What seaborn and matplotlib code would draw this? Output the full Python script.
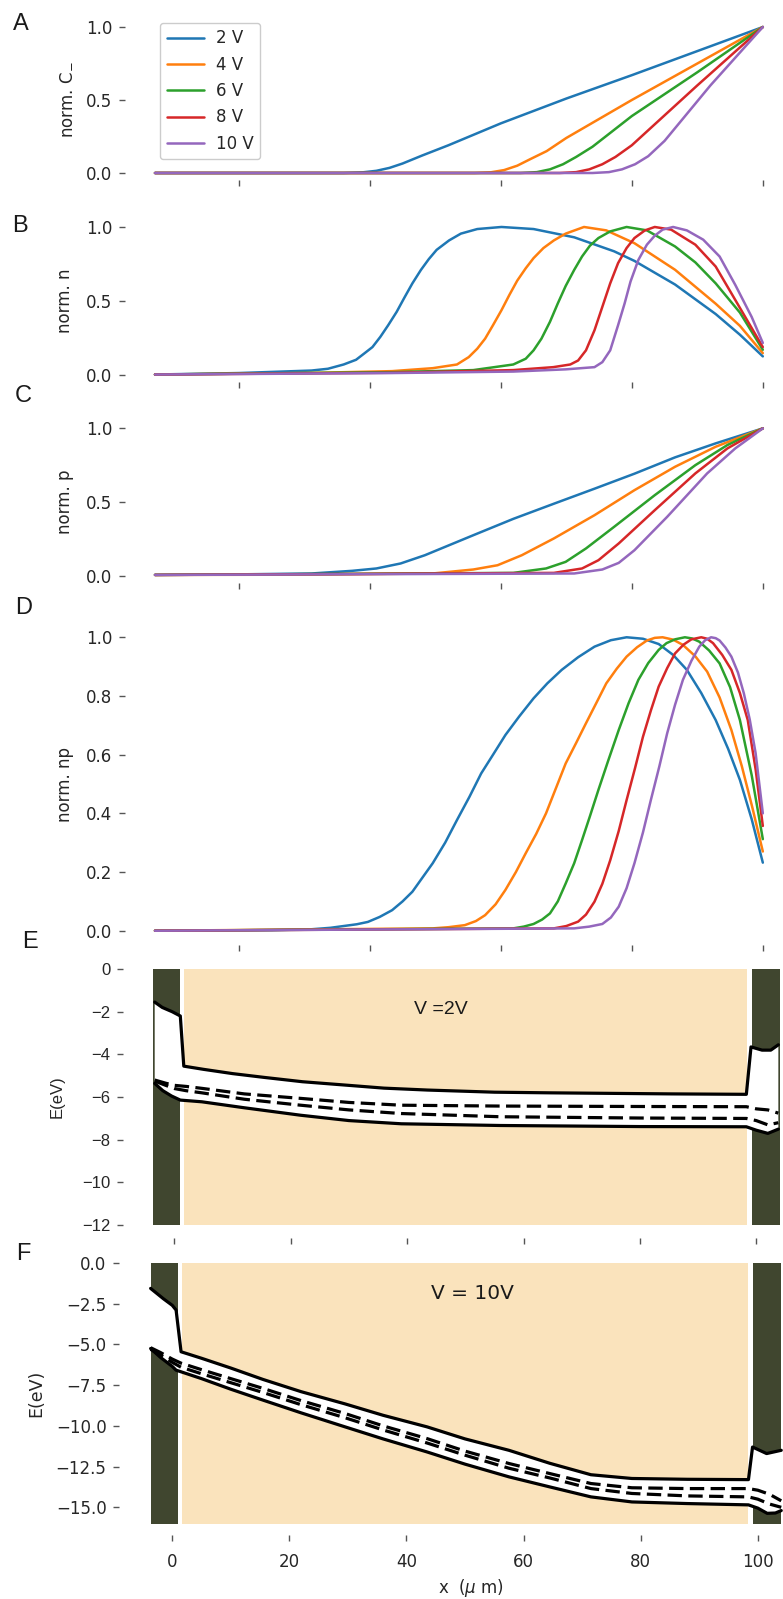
import numpy as np
import pandas as pd
import matplotlib
matplotlib.use("Agg")
import matplotlib.pyplot as plt
import seaborn as sns

sns.set_theme(style="ticks")
plt.rcParams["font.family"] = ["DejaVu Sans"]

# ---------------- data ----------------
volt_labels = ["2 V", "4 V", "6 V", "8 V", "10 V"]
line_colors = ["#1f77b4", "#ff7f0e", "#2ca02c", "#d62728", "#9467bd"]

# Panel A : norm. C_-
a_x = [
    [7.2, 36, 39, 41, 43, 45, 48, 52, 60, 70, 80, 90, 100],
    [7.2, 56, 58.5, 60.5, 62.5, 64.5, 67, 70, 80, 90, 100],
    [7.2, 63, 65.5, 67.5, 69.5, 71.5, 74, 80, 90, 100],
    [7.2, 69, 71.5, 73.5, 75.5, 77.5, 80, 90, 100],
    [7.2, 74, 76.5, 78.5, 80.5, 82.5, 85, 92, 100],
]
a_y = [
    [0, 0, 0.005, 0.015, 0.035, 0.065, 0.12, 0.19, 0.34, 0.51, 0.67, 0.835, 1.0],
    [0, 0, 0.005, 0.02, 0.05, 0.095, 0.15, 0.24, 0.50, 0.75, 1.0],
    [0, 0, 0.006, 0.025, 0.06, 0.11, 0.18, 0.39, 0.69, 1.0],
    [0, 0, 0.006, 0.025, 0.06, 0.11, 0.19, 0.60, 1.0],
    [0, 0, 0.006, 0.025, 0.06, 0.115, 0.22, 0.60, 1.0],
]

# Panel B : norm. n
b_x = [
    [7.2, 20, 31.1, 33.6, 36.0, 37.9, 39.1, 40.4, 41.6, 42.8, 44.1, 45.3, 46.5, 47.8, 49.0, 50.2,
     52.1, 53.9, 56.4, 60.1, 65.0, 71.2, 77.3, 80.4, 86.6, 92.8, 96.5, 100],
    [7.2, 31.1, 43.4, 49.6, 53.3, 55.1, 56.4, 57.6, 58.8, 60.1, 61.3, 62.5, 63.8, 65.0, 66.5, 68.1,
     69.9, 72.7, 76.1, 80.4, 86.6, 92.8, 96.5, 100],
    [7.2, 43.4, 55.8, 61.9, 63.8, 65.0, 66.2, 67.5, 68.7, 69.9, 71.2, 72.4, 73.6, 74.9, 76.7, 79.2,
     82.3, 86.6, 89.7, 92.8, 96.5, 100],
    [7.2, 43.4, 61.9, 68.0, 70.6, 71.8, 73.0, 74.3, 75.5, 76.7, 77.9, 79.2, 80.4, 82.0, 83.5, 86.0,
     89.7, 92.8, 95.8, 100],
    [7.2, 43.4, 61.9, 69.9, 74.3, 75.5, 76.7, 77.9, 78.9, 79.8, 81.0, 82.3, 83.5, 84.7, 86.3, 88.4,
     90.9, 93.4, 95.8, 98.3, 100],
]
b_y = [
    [0, 0.01, 0.027, 0.039, 0.068, 0.10, 0.141, 0.186, 0.255, 0.334, 0.425, 0.523, 0.618, 0.709,
     0.782, 0.845, 0.909, 0.955, 0.986, 1.0, 0.986, 0.93, 0.835, 0.77, 0.61, 0.41, 0.27, 0.123],
    [0, 0.011, 0.023, 0.043, 0.068, 0.118, 0.175, 0.243, 0.334, 0.436, 0.539, 0.636, 0.72, 0.789,
     0.857, 0.909, 0.955, 1.0, 0.977, 0.89, 0.71, 0.48, 0.33, 0.145],
    [0, 0.016, 0.03, 0.068, 0.107, 0.164, 0.243, 0.357, 0.482, 0.60, 0.709, 0.80, 0.873, 0.925,
     0.97, 1.0, 0.977, 0.868, 0.76, 0.618, 0.42, 0.168],
    [0, 0.012, 0.03, 0.05, 0.068, 0.095, 0.164, 0.30, 0.459, 0.618, 0.755, 0.857, 0.925, 0.977,
     1.0, 0.982, 0.88, 0.732, 0.505, 0.186],
    [0, 0.01, 0.02, 0.035, 0.05, 0.084, 0.164, 0.334, 0.482, 0.63, 0.777, 0.88, 0.941, 0.982, 1.0,
     0.977, 0.914, 0.80, 0.607, 0.39, 0.214],
]

# Panel C : norm. p
c_x = [
    [7.2, 20, 31.1, 37.3, 41.0, 44.7, 48.4, 52.1, 55.8, 61.9, 68.1, 74.3, 80.4, 86.6, 92.8, 100],
    [7.2, 31.1, 49.6, 55.8, 59.5, 63.2, 68.1, 74.3, 80.4, 86.6, 92.8, 100],
    [7.2, 61.9, 66.9, 69.9, 73.0, 77.3, 83.5, 89.7, 94.6, 100],
    [7.2, 68.1, 72.4, 74.9, 78.0, 83.5, 89.7, 94.6, 100],
    [7.2, 71.2, 75.5, 78.0, 80.4, 85.4, 91.5, 95.8, 100],
]
c_y = [
    [0.005, 0.008, 0.014, 0.032, 0.048, 0.082, 0.138, 0.206, 0.274, 0.385, 0.488, 0.59, 0.692, 0.803, 0.898, 1.0],
    [0.004, 0.006, 0.014, 0.041, 0.07, 0.138, 0.252, 0.41, 0.58, 0.739, 0.875, 1.0],
    [0.004, 0.018, 0.048, 0.093, 0.184, 0.331, 0.546, 0.75, 0.887, 1.0],
    [0.004, 0.018, 0.048, 0.104, 0.218, 0.444, 0.694, 0.864, 1.0],
    [0.004, 0.014, 0.041, 0.086, 0.172, 0.399, 0.694, 0.864, 1.0],
]

# Panel D : norm. np
d_x = [
    [7.2, 25, 31.1, 34, 36, 38, 39.7, 41.5, 43.4, 45.0, 46.5, 48.0, 49.6, 51.5, 53.3, 55.2, 57.0,
     58.9, 60.7, 62.8, 65.0, 67.1, 69.3, 71.8, 74.3, 76.8, 79.2, 81.7, 84.1, 86.3, 88.4, 90.6,
     92.8, 94.7, 96.5, 98.3, 100],
    [7.2, 49.6, 52, 54.5, 56.2, 57.6, 59.2, 60.7, 62.3, 63.8, 65.4, 66.9, 68.4, 69.9, 71.5, 73.0,
     74.6, 76.1, 77.7, 79.2, 80.8, 82.3, 83.5, 84.7, 86.3, 87.8, 89.7, 91.5, 93.4, 95.2, 96.8,
     98.4, 100],
    [7.2, 61.9, 63.5, 65.0, 66.3, 67.5, 68.7, 69.9, 71.2, 72.4, 73.6, 74.9, 76.4, 78.0, 79.5, 81.0,
     82.5, 84.1, 85.3, 86.6, 88.1, 89.2, 90.3, 91.8, 93.4, 95.0, 96.5, 98.3, 100],
    [7.2, 68.1, 70.0, 71.8, 73.0, 74.3, 75.5, 76.7, 78.0, 79.2, 80.5, 81.7, 82.9, 84.1, 85.4, 86.6,
     87.9, 89.1, 90.6, 91.5, 92.4, 93.8, 95.2, 96.5, 97.7, 98.9, 100],
    [7.2, 71.2, 73.5, 75.5, 76.8, 78.0, 79.2, 80.4, 81.7, 82.9, 84.2, 85.4, 86.6, 87.8, 89.1, 90.3,
     91.2, 92.1, 92.8, 93.4, 94.3, 95.2, 96.2, 97.1, 98.0, 98.9, 100],
]
d_y = [
    [0, 0.002, 0.005, 0.01, 0.016, 0.022, 0.03, 0.047, 0.07, 0.10, 0.133, 0.18, 0.23, 0.30, 0.377,
     0.456, 0.536, 0.603, 0.667, 0.73, 0.792, 0.843, 0.889, 0.932, 0.968, 0.99, 1.0, 0.995, 0.977,
     0.94, 0.889, 0.81, 0.718, 0.62, 0.514, 0.38, 0.232],
    [0, 0.008, 0.012, 0.019, 0.033, 0.053, 0.09, 0.139, 0.20, 0.264, 0.33, 0.40, 0.485, 0.57, 0.64,
     0.707, 0.777, 0.843, 0.893, 0.934, 0.966, 0.989, 0.998, 1.0, 0.992, 0.974, 0.935, 0.883, 0.795,
     0.684, 0.56, 0.42, 0.27],
    [0, 0.008, 0.014, 0.023, 0.038, 0.059, 0.10, 0.161, 0.23, 0.309, 0.39, 0.48, 0.58, 0.684, 0.775,
     0.855, 0.912, 0.957, 0.98, 0.993, 1.0, 0.996, 0.985, 0.955, 0.911, 0.83, 0.718, 0.53, 0.312],
    [0, 0.008, 0.016, 0.031, 0.055, 0.099, 0.16, 0.24, 0.34, 0.445, 0.555, 0.661, 0.75, 0.832, 0.895,
     0.945, 0.975, 0.993, 1.0, 0.995, 0.98, 0.94, 0.889, 0.81, 0.718, 0.55, 0.357],
    [0, 0.008, 0.014, 0.023, 0.045, 0.082, 0.145, 0.23, 0.335, 0.445, 0.56, 0.673, 0.77, 0.855, 0.92,
     0.968, 0.99, 1.0, 0.997, 0.989, 0.965, 0.934, 0.88, 0.809, 0.72, 0.605, 0.40],
]

# Panels E/F : band diagrams (x in um, E in eV)
contact_left = [-3.7, 0.9]
device_span = [1.65, 98.4]
contact_right = [99.2, 104.0]

e_cb_x = [-3.4, -2.1, -0.4, 1.0, 1.6, 5, 10, 15.5, 22, 29.5, 36, 43.5, 55, 64.5, 85.5, 98.3, 99.1, 101, 102.5, 103.8]
e_cb_y = [-1.55, -1.8, -2.0, -2.2, -4.55, -4.7, -4.9, -5.08, -5.28, -5.44, -5.58, -5.67, -5.77, -5.8, -5.85, -5.87, -3.65, -3.8, -3.8, -3.55]
e_vb_x = [-3.4, -2.0, -0.5, 1.0, 4.7, 12, 21.7, 30, 39, 56, 80, 98.3, 100, 102, 103.8]
e_vb_y = [-5.36, -5.7, -5.95, -6.14, -6.22, -6.5, -6.85, -7.1, -7.25, -7.33, -7.38, -7.39, -7.55, -7.7, -7.5]
e_fn_x = [-3.4, -1.5, 0, 2, 4.7, 12, 21.7, 30, 39, 56, 80, 98.3, 100, 102, 103.8]
e_fn_y = [-5.2, -5.35, -5.45, -5.5, -5.59, -5.85, -6.06, -6.25, -6.38, -6.42, -6.44, -6.45, -6.55, -6.6, -6.75]
e_fp_y = [-5.25, -5.45, -5.6, -5.7, -5.8, -6.1, -6.38, -6.6, -6.77, -6.92, -6.98, -7.0, -7.1, -7.3, -7.2]

f_cb_x = [-3.7, -1.5, 0, 0.65, 1.5, 5, 10, 15.5, 22, 29.5, 36, 43.5, 50, 57.5, 64.5, 71.5, 78.5, 88, 98.4, 99.1, 101.5, 104]
f_cb_y = [-1.56, -2.2, -2.6, -2.89, -5.45, -5.85, -6.45, -7.15, -7.9, -8.65, -9.35, -10.06, -10.8, -11.5, -12.3, -13.0, -13.23, -13.28, -13.3, -11.3, -11.7, -11.5]
f_vb_x = [-3.7, -2, 0, 0.65, 1.5, 5, 10, 15.5, 22, 29.5, 36, 43.5, 50, 57.5, 64.5, 71.5, 78.5, 88, 98.4, 100, 101.6, 103, 104]
f_vb_y = [-5.25, -5.8, -6.35, -6.58, -6.68, -7.1, -7.75, -8.42, -9.2, -10.06, -10.8, -11.6, -12.35, -13.13, -13.75, -14.36, -14.67, -14.77, -14.85, -15.05, -15.37, -15.35, -15.2]
f_fn_x = [-3.7, -2, 0, 1.5, 5, 10, 15.5, 22, 29.5, 36, 43.5, 50, 57.5, 64.5, 71.5, 78.5, 88, 98.4, 100, 102, 104]
f_fn_y = [-5.2, -5.5, -5.9, -6.15, -6.55, -7.1, -7.7, -8.45, -9.24, -10.0, -10.78, -11.55, -12.31, -12.93, -13.54, -13.8, -13.85, -13.85, -13.95, -14.2, -14.6]
f_fp_y = [-5.3, -5.65, -6.1, -6.4, -6.8, -7.35, -7.95, -8.7, -9.5, -10.25, -11.05, -11.8, -12.6, -13.2, -13.85, -14.15, -14.3, -14.36, -14.5, -14.8, -15.0]

ad_xticks = [20, 40, 60, 80, 100]
ef_xticks = [0, 20, 40, 60, 80, 100]
e_yticks = [0, -2, -4, -6, -8, -10, -12]
f_yticks = [0.0, -2.5, -5.0, -7.5, -10.0, -12.5, -15.0]

# ---------------- figure ----------------
W, H = 783, 1599
fig = plt.figure(figsize=(W / 100, H / 100), dpi=100)


def axes_px(l, r, t, b):
    return fig.add_axes([l / W, 1 - b / H, (r - l) / W, (b - t) / H])


FS = 12
TICK_KW = dict(length=4, width=1, color="#555555", labelsize=FS, labelcolor="#262626")
DARK = "#40462f"
LIGHT = "#fae3bc"


def curve_panel(ax, xs, ys, yticks, ylabel, legend=False):
    frames = [pd.DataFrame({"x": x, "y": y, "V": lab}) for lab, x, y in zip(volt_labels, xs, ys)]
    df = pd.concat(frames, ignore_index=True)
    sns.lineplot(data=df, x="x", y="y", hue="V", hue_order=volt_labels, palette=line_colors,
                 estimator=None, sort=False, lw=1.8, ax=ax, legend=legend)
    ax.set_xlim(2.56, 103.08)
    ax.set_ylim(-0.05, 1.05)
    ax.set_xticks(ad_xticks)
    ax.set_xticklabels([])
    ax.set_yticks(yticks)
    ax.set_yticklabels([f"{v:.1f}" for v in yticks])
    ax.set_xlabel("")
    ax.set_ylabel(ylabel, fontsize=FS, color="#262626")
    ax.tick_params(**TICK_KW)
    ax.tick_params(axis="y", pad=5)
    sns.despine(ax=ax, left=True, bottom=True)


axA = axes_px(124.6, 783, 19.7, 180.3)
axB = axes_px(124.6, 783, 219.6, 381.9)
axC = axes_px(124.6, 783, 421.0, 582.9)
axD = axes_px(124.6, 783, 622.6, 945.4)

curve_panel(axA, a_x, a_y, [0.0, 0.5, 1.0], "norm. C$_{-}$", legend=True)
curve_panel(axB, b_x, b_y, [0.0, 0.5, 1.0], "norm. n")
curve_panel(axC, c_x, c_y, [0.0, 0.5, 1.0], "norm. p")
curve_panel(axD, d_x, d_y, [0.0, 0.2, 0.4, 0.6, 0.8, 1.0], "norm. np")

for ax in (axA, axB, axC, axD):
    ax.yaxis.set_label_coords((74 - 124.6) / (783 - 124.6), 0.5)

h, l = axA.get_legend_handles_labels()
if axA.get_legend() is not None:
    axA.get_legend().remove()
axA.legend(h, l, loc="upper left", bbox_to_anchor=((160 - 124.6) / 658.4, (180.3 - 22.7) / 160.6),
           borderaxespad=0, fontsize=FS, handlelength=2.25, handletextpad=0.7,
           labelspacing=0.5, frameon=True, edgecolor="0.8", framealpha=1)


def band_panel(ax, cb_x, cb_y, vb_x, vb_y, fn_x, fn_y, fp_y, ybottom):
    for span, col in [(contact_left, DARK), (device_span, LIGHT), (contact_right, DARK)]:
        ax.fill_between(span, [ybottom, ybottom], [0, 0], color=col, lw=0, zorder=1)
    ax.fill(np.concatenate([cb_x, vb_x[::-1]]), np.concatenate([cb_y, vb_y[::-1]]),
            color="white", lw=0, zorder=2)
    sns.lineplot(x=cb_x, y=cb_y, color="black", lw=2.3, estimator=None, sort=False, ax=ax, zorder=4)
    sns.lineplot(x=vb_x, y=vb_y, color="black", lw=2.3, estimator=None, sort=False, ax=ax, zorder=4)
    sns.lineplot(x=fn_x, y=fn_y, color="black", lw=2.3, estimator=None, sort=False, ax=ax, zorder=4,
                 linestyle=(0, (4.5, 2.0)))
    sns.lineplot(x=fn_x, y=fp_y, color="black", lw=2.3, estimator=None, sort=False, ax=ax, zorder=4,
                 linestyle=(0, (4.5, 2.0)))
    ax.set_xticks(ef_xticks)
    ax.tick_params(**TICK_KW)
    ax.tick_params(axis="y", pad=5)
    sns.despine(ax=ax, left=True, bottom=True)


axE = axes_px(123, 783, 956.2, 1238)
band_panel(axE, np.array(e_cb_x), np.array(e_cb_y), np.array(e_vb_x), np.array(e_vb_y),
           np.array(e_fn_x), np.array(e_fn_y), np.array(e_fp_y), -12)
axE.set_xlim(-8.85, 104.6)
axE.set_ylim(-12.6, 0.6)
axE.set_xticklabels([])
axE.set_yticks(e_yticks)
axE.set_yticklabels([f"{v:d}".replace("-", "\u2212") for v in e_yticks], fontfamily="Liberation Sans")
axE.set_ylabel("E(eV)", fontsize=12, fontfamily="Liberation Sans", color="#262626")
axE.yaxis.set_label_coords((65 - 123) / 660, 0.5)
axE.text(45.8, -1.91, "V =2V", ha="center", va="center", fontsize=14,
         fontfamily="Liberation Sans", color="#1a1a1a", zorder=5)

axF = axes_px(119, 783, 1251.6, 1535)
band_panel(axF, np.array(f_cb_x), np.array(f_cb_y), np.array(f_vb_x), np.array(f_vb_y),
           np.array(f_fn_x), np.array(f_fn_y), np.array(f_fp_y), -16)
axF.set_xlim(-9.1, 104.3)
axF.set_ylim(-16.7, 0.7)
axF.set_yticks(f_yticks)
axF.set_yticklabels([f"{v:.1f}".replace("-", "\u2212") for v in f_yticks])
axF.set_xticklabels([str(v) for v in ef_xticks])
axF.tick_params(axis="x", pad=9)
axF.set_ylabel("E(eV)", fontsize=12.5, color="#262626")
axF.yaxis.set_label_coords((44.8 - 119) / 664, 0.5)
axF.set_xlabel("x  ($\\mu$ m)", fontsize=FS, color="#262626")
axF.xaxis.set_label_coords((471 - 119) / 664, -(1577 - 1535) / 283.4)
axF.text(51.3, -1.9, "V = 10V", ha="center", va="center", fontsize=14.5, color="#1a1a1a", zorder=5)

# panel letters
for letter, xp, yp in [("A", 13, 23.5), ("B", 12, 226), ("C", 15, 396), ("D", 15, 608),
                       ("E", 22, 942), ("F", 16, 1253.5)]:
    fig.text(xp / W, 1 - yp / H, letter, fontsize=17, fontfamily="Liberation Sans",
             ha="left", va="center", color="#1a1a1a")

fig.savefig("out.png", dpi=100)
